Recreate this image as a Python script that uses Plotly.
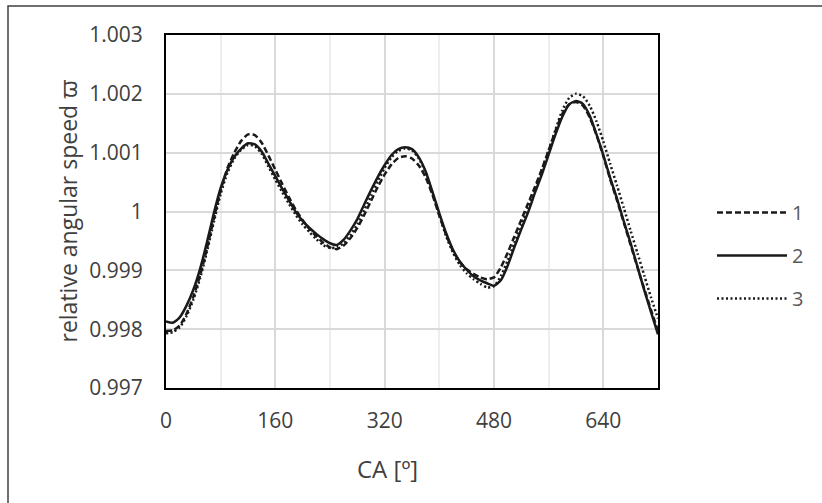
import plotly.graph_objects as go

# Crank angle (degrees)
ca = list(range(0, 730, 10))

# Series 1 (dashed)
s1 = [0.99797, 0.99798, 0.99806, 0.99826, 0.99855, 0.99892, 0.99937, 0.99988, 1.00036, 1.00074,
      1.00100, 1.00120, 1.00131, 1.00130, 1.00117, 1.00095, 1.00071, 1.00047, 1.00024, 1.00003,
      0.99985, 0.99970, 0.99958, 0.99947, 0.99939, 0.99936, 0.99942, 0.99955, 0.99972, 0.99994,
      1.00018, 1.00042, 1.00063, 1.00080, 1.00091, 1.00094, 1.00090, 1.00078, 1.00058, 1.00028,
      0.99993, 0.99960, 0.99933, 0.99914, 0.99902, 0.99894, 0.99888, 0.99885, 0.99888, 0.99905,
      0.99930, 0.99958, 0.99986, 1.00014, 1.00042, 1.00072, 1.00104, 1.00137, 1.00166, 1.00182,
      1.00186, 1.00180, 1.00160, 1.00130, 1.00094, 1.00055, 1.00019, 0.99981, 0.99943, 0.99905,
      0.99868, 0.99832, 0.99797]

# Series 2 (solid)
s2 = [0.99813, 0.99811, 0.99820, 0.99840, 0.99867, 0.99903, 0.99948, 0.99997, 1.00040, 1.00071,
      1.00093, 1.00107, 1.00116, 1.00114, 1.00102, 1.00081, 1.00060, 1.00039, 1.00019, 0.99999,
      0.99984, 0.99972, 0.99962, 0.99953, 0.99946, 0.99943, 0.99952, 0.99968, 0.99987, 1.00012,
      1.00036, 1.00059, 1.00079, 1.00096, 1.00106, 1.00109, 1.00106, 1.00092, 1.00068, 1.00033,
      0.99997, 0.99963, 0.99935, 0.99915, 0.99901, 0.99890, 0.99883, 0.99878, 0.99874, 0.99883,
      0.99908, 0.99940, 0.99970, 0.99999, 1.00032, 1.00063, 1.00097, 1.00131, 1.00161, 1.00182,
      1.00188, 1.00183, 1.00163, 1.00131, 1.00096, 1.00057, 1.00022, 0.99983, 0.99946, 0.99906,
      0.99866, 0.99828, 0.99791]

# Series 3 (dotted)
s3 = [0.99793, 0.99795, 0.99803, 0.99822, 0.99850, 0.99887, 0.99932, 0.99982, 1.00030, 1.00066,
      1.00090, 1.00105, 1.00113, 1.00111, 1.00098, 1.00076, 1.00054, 1.00033, 1.00013, 0.99994,
      0.99978, 0.99965, 0.99953, 0.99943, 0.99938, 0.99939, 0.99946, 0.99960, 0.99978, 1.00002,
      1.00027, 1.00052, 1.00074, 1.00092, 1.00103, 1.00107, 1.00104, 1.00090, 1.00066, 1.00031,
      0.99994, 0.99958, 0.99930, 0.99909, 0.99895, 0.99885, 0.99877, 0.99871, 0.99873, 0.99890,
      0.99917, 0.99947, 0.99978, 1.00008, 1.00038, 1.00070, 1.00104, 1.00139, 1.00172, 1.00193,
      1.00200, 1.00196, 1.00180, 1.00153, 1.00119, 1.00081, 1.00044, 1.00006, 0.99967, 0.99929,
      0.99891, 0.99853, 0.99818]

series_names = ["1", "2", "3"]
x_tickvals = [0, 160, 320, 480, 640]
x_ticktext = ["0", "160", "320", "480", "640"]
y_tickvals = [0.997, 0.998, 0.999, 1.000, 1.001, 1.002, 1.003]
y_ticktext = ["0.997", "0.998", "0.999", "1", "1.001", "1.002", "1.003"]

FONT = "Open Sans"
LINE_COLOR = "#1a1a1a"
TEXT_COLOR = "#404040"

fig = go.Figure()
dashes = ["6px,3px", "solid", "2px,2.5px"]
for name, ys, dash in zip(series_names, [s1, s2, s3], dashes):
    fig.add_trace(go.Scatter(
        x=ca, y=ys, name=name, mode="lines", legendgroup=name,
        line=dict(color=LINE_COLOR, width=2.5, shape="spline", smoothing=0.6, dash=dash),
    ))

fig.update_layout(
    width=822, height=503, autosize=False,
    margin=dict(l=166, r=164, t=35, b=115),
    paper_bgcolor="white", plot_bgcolor="white",
    font=dict(family=FONT, size=21, color=TEXT_COLOR),
    showlegend=True,
    legend=dict(
        xref="container", yref="container",
        x=712 / 822, xanchor="left", y=1 - 193 / 503, yanchor="top",
        font=dict(family=FONT, size=20, color="#595959"),
        tracegroupgap=14, itemwidth=70, bgcolor="rgba(0,0,0,0)",
    ),
    xaxis=dict(
        range=[0, 720], tickvals=x_tickvals, ticktext=x_ticktext,
        showgrid=True, gridcolor="#d9d9d9", gridwidth=1.5,
        minor=dict(dtick=80, tick0=0, showgrid=True, gridcolor="#eeeeee", gridwidth=1.5),
        showline=True, linecolor="black", linewidth=2, mirror=True,
        ticks="", ticklabelstandoff=13, zeroline=False,
        tickfont=dict(family=FONT, size=21, color=TEXT_COLOR),
    ),
    yaxis=dict(
        range=[0.997, 1.003], tickvals=y_tickvals, ticktext=y_ticktext,
        showgrid=True, gridcolor="#d9d9d9", gridwidth=1.5,
        showline=True, linecolor="black", linewidth=2, mirror=True,
        ticks="", ticklabelstandoff=17, zeroline=False,
        tickfont=dict(family=FONT, size=21, color=TEXT_COLOR),
    ),
    annotations=[
        dict(text="CA [º]", xref="paper", yref="paper",
             x=(387 - 166) / 492, y=(388 - 468) / 353, xanchor="center", yanchor="middle",
             showarrow=False, font=dict(family=FONT, size=24, color=TEXT_COLOR)),
        dict(text="relative angular speed ϖ", xref="paper", yref="paper",
             x=(67 - 166) / 492, y=0.5, xanchor="center", yanchor="middle", textangle=-90,
             showarrow=False, font=dict(family=FONT, size=23, color=TEXT_COLOR)),
    ],
    shapes=[
        dict(type="rect", xref="paper", yref="paper", layer="below",
             x0=(8 - 166) / 492, x1=(840 - 166) / 492,
             y0=(388 - 520) / 353, y1=(388 - 6) / 353,
             line=dict(color="#404040", width=1.5), fillcolor="rgba(0,0,0,0)"),
    ],
)

fig.write_html(
    "out.html",
    config={"displayModeBar": False},
    post_script="document.body.style.margin='0';document.body.style.overflow='hidden';",
)
